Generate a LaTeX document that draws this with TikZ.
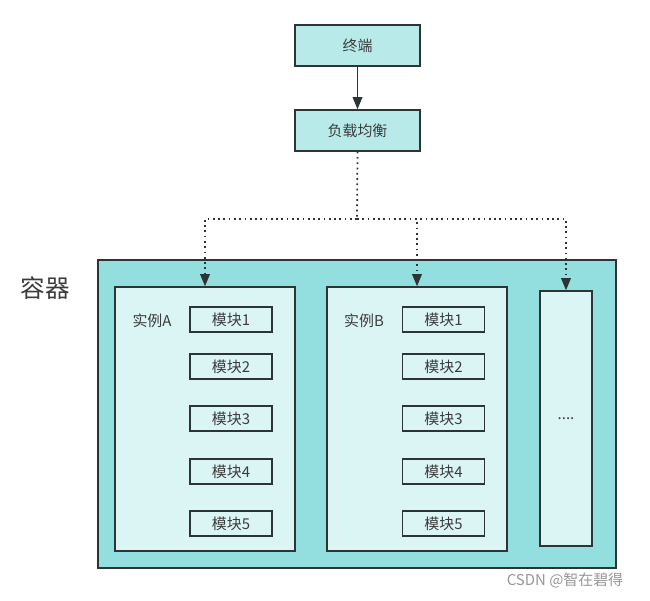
\documentclass[tikz,border=0pt]{standalone}
\usepackage{fontspec}
\setmainfont{Noto Sans CJK SC}
\usetikzlibrary{arrows.meta, positioning, calc}

\begin{document}
\begin{tikzpicture}[
    >={Triangle[length=7pt, width=5.5pt]},
    every node/.style={font=\fontsize{8.5}{10}\selectfont, text=textgray},
]
% Colors
\definecolor{topfill}{RGB}{184,234,234}
\definecolor{containerfill}{RGB}{147,222,222}
\definecolor{instfill}{RGB}{219,244,244}
\definecolor{linedark}{RGB}{45,52,54}
\definecolor{textgray}{RGB}{60,60,60}
\definecolor{markgray}{RGB}{150,150,150}
% ============================================================
% Styles
% ============================================================
\tikzset{
    topbox/.style={
        draw=linedark,
        fill=topfill,
        line width=0.8pt,
        minimum width=2.5cm,
        minimum height=0.82cm,
        inner sep=0pt,
    },
    instbox/.style={
        draw=linedark,
        fill=instfill,
        line width=0.8pt,
        minimum width=3.6cm,
        minimum height=5.28cm,
        inner sep=0pt,
    },
    modbox/.style={
        draw=linedark,
        fill=instfill,
        line width=0.8pt,
        minimum width=1.64cm,
        minimum height=0.5cm,
        inner sep=0pt,
    },
    flow/.style={->, linedark, line width=0.9pt},
    splitflow/.style={->, linedark, line width=1pt, dotted},
}
\useasboundingbox (0,0) rectangle (13,-12);

% ============================================================
% Top: terminal and load balancer
% ============================================================
\node[topbox] (term) at (7.15, -0.91) {终端};
\node[topbox] (lb) at (7.15, -2.61) {负载均衡};
\draw[flow] (term.south) -- (lb.north);

% ============================================================
% Container with instances
% ============================================================
\node[draw=linedark, fill=containerfill, line width=0.8pt,
      minimum width=10.36cm, minimum height=6.16cm, inner sep=0pt]
      (box) at (7.14, -8.28) {};
\node[font=\fontsize{14}{16}\selectfont] (boxlabel) at (0.9, -5.76) {容器};

% --- Instance A ---
\node[instbox] (instA) at (4.1, -8.38) {};
\node (labelA) at (3.04, -6.42) {实例A};
% --- Instance B ---
\node[instbox] (instB) at (8.34, -8.38) {};
\node (labelB) at (7.28, -6.42) {实例B};
% --- More instances ---
\node[instbox, minimum width=1.04cm, minimum height=5.1cm] (more) at (11.32, -8.37) {....};

% Modules, five per instance
\foreach \k/\y in {1/-6.39, 2/-7.33, 3/-8.37, 4/-9.43, 5/-10.47} {
    \node[modbox] (modA\k) at (4.62, \y) {模块\k};
    \node[modbox] (modB\k) at (8.87, \y) {模块\k};
}

% ============================================================
% Arrows — load balancer fans out to the instances
% ============================================================
\coordinate (split) at (7.14, -4.38);
\draw[linedark, line width=1pt, dotted] (lb.south) -- (split);
\foreach \t in {instA, instB, more} {
    \draw[splitflow] (split) -| (\t.north);
}

% watermark
\node[text=markgray, font=\fontsize{8.5}{10}\selectfont] (mark) at (11.3, -11.6) {CSDN @智在碧得};
\end{tikzpicture}
\end{document}
